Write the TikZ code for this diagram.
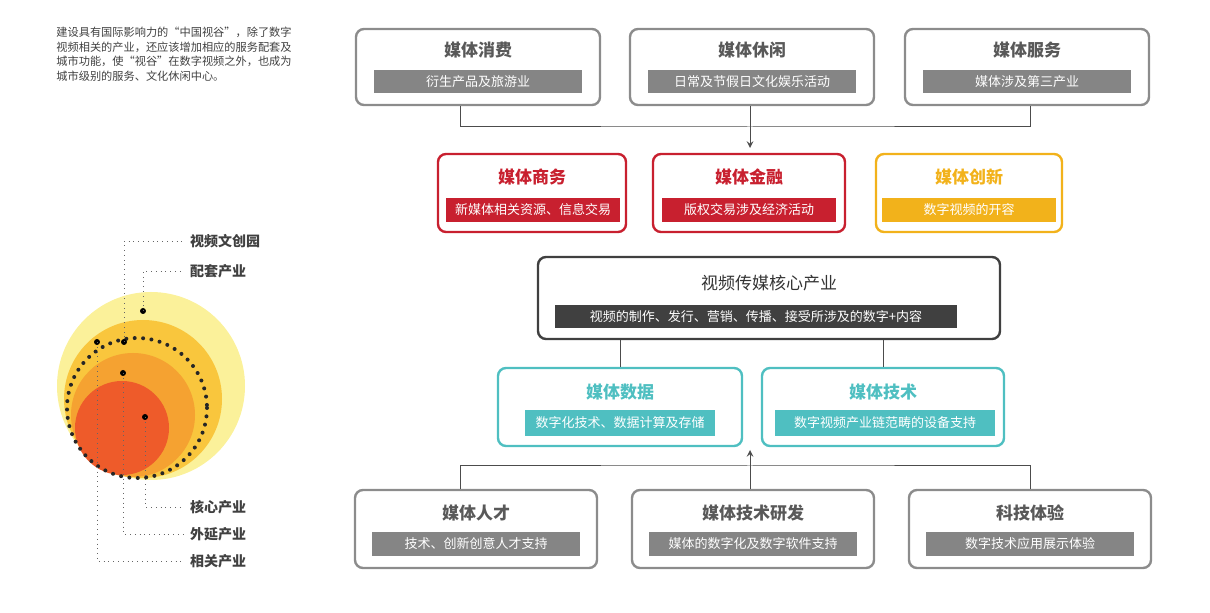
\documentclass[tikz,border=0pt]{standalone}
\usepackage{fontspec}
\setmainfont{Noto Sans CJK SC}
\definecolor{frame}{HTML}{8C8C8C}
\definecolor{barg}{HTML}{858585}
\definecolor{bard}{HTML}{404040}
\definecolor{redc}{HTML}{C8202F}
\definecolor{yelc}{HTML}{F2B21B}
\definecolor{teal}{HTML}{4FBFC1}
\definecolor{c1}{HTML}{FBF19A}
\definecolor{c2}{HTML}{F9C63D}
\definecolor{c3}{HTML}{F5A231}
\definecolor{c4}{HTML}{EE5B2A}
\begin{document}
\begin{tikzpicture}[x=0.5pt,y=-0.5pt,>=stealth,
  box/.style={draw=#1,line width=1.2pt,rounded corners=4pt,inner sep=0pt},
  title/.style={font=\fontsize{8.5}{10}\selectfont\bfseries,text=#1},
  bar/.style={fill=#1,inner sep=0pt,text=white,font=\fontsize{6.5}{8}\selectfont},
  link/.style={draw=black!70,line width=0.5pt},
  lead/.style={draw=black!60,line width=0.4pt,dotted},
  tag/.style={anchor=west,font=\fontsize{7}{8}\selectfont\bfseries,text=black!75}]

  \useasboundingbox (0,0) rectangle (1210,613);

  % intro text
  \node[anchor=north west,align=left,inner sep=0pt,text=black!75,
    font=\fontsize{5.6}{7.2}\selectfont] (intro) at (56,27)
    {建设具有国际影响力的“中国视谷”，除了数字\\视频相关的产业，还应该增加相应的服务配套及\\城市功能，使“视谷”在数字视频之外，也成为\\城市级别的服务、文化休闲中心。};

  % circles
  \fill[c1] (151,386) circle (94);
  \fill[c2] (143,399) circle (79);
  \fill[c3] (133,415) circle (62);
  \fill[c4] (122,428) circle (47);
  \draw[line width=2pt,dash pattern=on 0pt off 4.2pt,line cap=round,black!85] (137,408) circle (70);

  \foreach \name/\px/\py in {park/124/342,supp/143/311,core/145/417,ext/123/373,rel/97/342}
    \fill (\px,\py) circle (3) coordinate (d\name);

  \node[tag] (tpark) at (183,241) {视频文创园};
  \node[tag] (tsupp) at (183,271) {配套产业};
  \node[tag] (tcore) at (183,507) {核心产业};
  \node[tag] (text) at (183,534) {外延产业};
  \node[tag] (trel)  at (183,561) {相关产业};
  \draw[lead] (dpark) |- (tpark.west);
  \draw[lead] (dsupp) |- (tsupp.west);
  \draw[lead] (dcore) |- (tcore.west);
  \draw[lead] (dext)  |- (text.west);
  \draw[lead] (drel)  |- (trel.west);

  % top row
  \foreach \id/\cx/\t/\s in {consume/478/媒体消费/衍生产品及旅游业,
                             leisure/752/媒体休闲/日常及节假日文化娱乐活动,
                             service/1027/媒体服务/媒体涉及第三产业}{
    \node[box=frame,minimum width=122pt,minimum height=38pt] (\id) at (\cx,67) {};
    \node[title=black!65] at (\cx,50) {\t};
    \node[bar=barg,minimum width=104pt,minimum height=11.5pt] at (\cx,82) {\s};
  }

  % middle row
  \node[box=redc,minimum width=94pt,minimum height=39pt] (biz) at (532,193) {};
  \node[title=redc] at (532,177) {媒体商务};
  \node[bar=redc,minimum width=87pt,minimum height=12pt] at (533,210) {新媒体相关资源、信息交易};
  \node[box=redc,minimum width=96pt,minimum height=39pt] (fin) at (749,193) {};
  \node[title=redc] at (749,177) {媒体金融};
  \node[bar=redc,minimum width=87pt,minimum height=12pt] at (749,210) {版权交易涉及经济活动};
  \node[box=yelc,minimum width=93pt,minimum height=39pt] (inno) at (969,193) {};
  \node[title=yelc] at (969,177) {媒体创新};
  \node[bar=yelc,minimum width=87pt,minimum height=12pt] at (969,210) {数字视频的开容};

  % core
  \node[box=black!75,minimum width=231pt,minimum height=41pt] (hub) at (769,298) {};
  \node[font=\fontsize{8.5}{10}\selectfont,text=black!80] at (769,283) {视频传媒核心产业};
  \node[bar=bard,minimum width=201pt,minimum height=11.5pt] at (756,317)
    {视频的制作、发行、营销、传播、接受所涉及的数字+内容};

  % teal row
  \node[box=teal,minimum width=122pt,minimum height=39pt] (data) at (620,407) {};
  \node[title=teal] at (620,392) {媒体数据};
  \node[bar=teal,minimum width=95pt,minimum height=13pt] at (620,423) {数字化技术、数据计算及存储};
  \node[box=teal,minimum width=121pt,minimum height=39pt] (tech) at (883,407) {};
  \node[title=teal] at (883,392) {媒体技术};
  \node[bar=teal,minimum width=110pt,minimum height=13pt] at (885,423) {数字视频产业链范畴的设备支持};

  % bottom row
  \foreach \id/\cx/\t/\s in {talent/476/媒体人才/技术、创新创意人才支持,
                             rnd/753/媒体技术研发/媒体的数字化及数字软件支持,
                             exper/1030/科技体验/数字技术应用展示体验}{
    \node[box=frame,minimum width=121pt,minimum height=39pt] (\id) at (\cx,529) {};
    \node[title=black!65] at (\cx,513) {\t};
    \node[bar=barg,minimum width=104pt,minimum height=12pt] at (\cx,544) {\s};
  }

  % connectors
  \coordinate (tj) at (750,127);
  \draw[link] (consume.south -| 460,0) |- (tj) -| (service.south -| 1030,0);
  \draw[link] (leisure.south -| 750,0) -- (tj);
  \draw[link,->] (tj) -- (750,148);
  \draw[link] (hub.south -| 620,0) -- (data.north -| 620,0);
  \draw[link] (hub.south -| 883,0) -- (tech.north -| 883,0);
  \coordinate (bj) at (750,466);
  \draw[link] (talent.north -| 460,0) |- (bj) -| (exper.north -| 1030,0);
  \draw[link] (rnd.north -| 750,0) -- (bj);
  \draw[link,->] (bj) -- (750,450);
\end{tikzpicture}
\end{document}
